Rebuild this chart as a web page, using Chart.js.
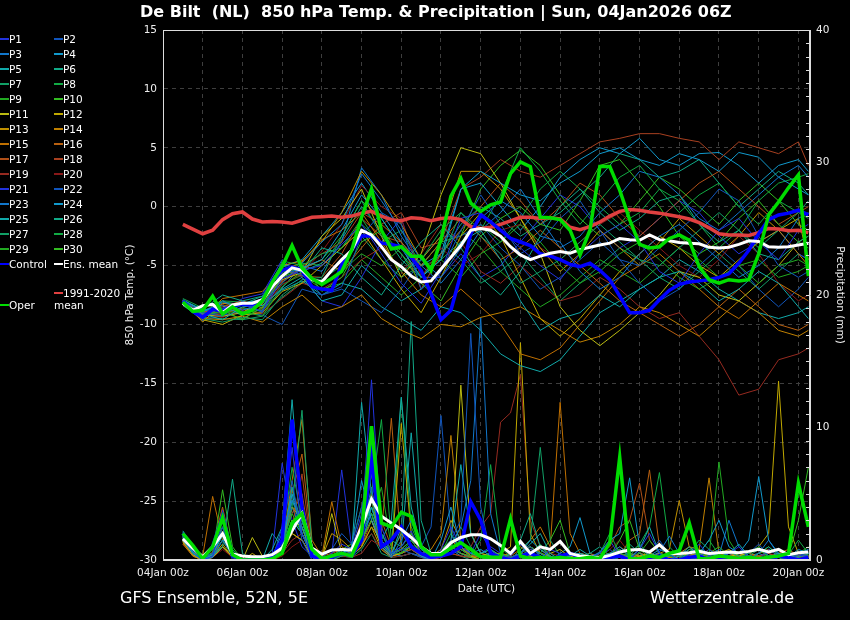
<!DOCTYPE html>
<html>
<head>
<meta charset="utf-8">
<title>De Bilt 850 hPa ensemble</title>
<script src="https://cdn.jsdelivr.net/npm/chart.js@4.4.1/dist/chart.umd.min.js"></script>
<style>
  body { margin: 0; background: #000; overflow: hidden; font-family: "DejaVu Sans", sans-serif; color: #fff; }
  #wrap { position: relative; width: 850px; height: 620px; }
  canvas { position: absolute; left: 0; top: 0; }
  .txt { position: absolute; white-space: pre; }
  #title { left: 140px; top: 2px; font-size: 16px; font-weight: bold; }
  .foot { top: 588px; font-size: 16px; }
  .key { position: absolute; font-size: 10.5px; line-height: 12px; white-space: pre; }
  .key i { position: absolute; height: 2px; top: 5px; }
</style>
</head>
<body>
<div id="wrap">
  <canvas id="c" width="850" height="620"></canvas>
  <div class="txt" id="title">De Bilt  (NL)  850 hPa Temp. &amp; Precipitation | Sun, 04Jan2026 06Z</div>
  <div class="txt foot" style="left:120px">GFS Ensemble, 52N, 5E</div>
  <div class="txt foot" style="left:650px">Wetterzentrale.de</div>
  <div id="legend"></div>
</div>
<script>
// hours after 04Jan 00z
const tHours = [12,24,36,48,60,72,84,96,108,120,132,144,156,168,180,192,204,216,228,240,252,264,276,288,300,312,324,336,348,360,372,384,390];
const pHours = [12,18,24,30,36,42,48,54,60,66,72,78,84,90,96,102,108,114,120,126,132,138,144,150,156,162,168,174,180,186,192,198,204,210,216,222,228,234,240,246,252,258,264,270,276,282,288,294,300,306,312,318,324,330,336,342,348,354,360,366,372,378,384,390];

// 850 hPa temperature (°C), ensemble members, 12-hourly
const tP1  = [-8.1,-9.2,-8.6,-8.3,-8.9,-6.1,-5.4,-5.0,-3.2,-1.5,-4.0,-6.5,-8.2,-5.5,-1.0,-0.5,-2.0,-3.5,-5.0,-6.2,-4.0,-2.5,-1.5,-3.0,-5.5,-6.5,-4.0,-2.0,-1.0,-3.0,-4.5,-2.0,-1.5];
const tP2  = [-8.0,-9.0,-9.3,-8.0,-9.0,-5.2,-5.8,-7.5,-6.8,-2.5,-0.5,-1.5,-7.0,-5.5,-2.0,1.0,-1.5,-4.0,-3.0,-1.0,0.5,-2.0,-4.5,-5.0,-3.5,-2.0,-0.5,1.5,0.5,-2.5,-5.0,-6.0,-5.5];
const tP3  = [-8.2,-9.4,-8.0,-8.8,-8.2,-6.5,-4.8,-3.0,-1.5,2.8,0.5,-2.0,-4.5,-6.0,-3.5,-1.0,0.5,-0.5,-2.5,-3.0,-5.5,-7.0,-6.0,-4.0,-2.5,-1.5,-3.0,-4.5,-6.0,-5.0,-3.5,-1.0,-0.5];
const tP4  = [-7.9,-8.8,-8.4,-9.2,-8.0,-5.8,-5.2,-4.5,-2.0,1.0,-1.0,-3.5,-6.0,-4.5,1.5,3.0,2.0,1.0,0.5,2.0,3.0,4.5,5.0,4.0,3.5,4.5,4.0,3.0,4.6,4.2,2.5,1.5,1.0];
const tP5  = [-8.3,-9.1,-9.6,-8.5,-8.4,-7.0,-6.0,-8.0,-7.5,-5.0,-6.5,-8.0,-7.0,-5.5,-3.0,-2.0,-4.5,-8.0,-10.5,-9.5,-9.0,-7.5,-8.5,-7.0,-6.0,-5.5,-6.5,-8.0,-7.0,-5.5,-6.5,-8.5,-9.5];
const tP6  = [-8.0,-8.7,-7.5,-8.0,-7.6,-5.0,-5.6,-3.5,-4.0,-6.0,-7.5,-5.0,-3.0,-1.5,-3.5,-6.0,-7.5,-5.5,-2.5,0.0,1.5,-0.5,-2.0,-1.0,0.5,1.0,-1.5,-3.0,-2.0,-4.0,-4.5,-3.0,-2.5];
const tP7  = [-8.4,-9.5,-9.8,-9.4,-9.6,-7.5,-6.2,-6.0,-2.5,0.5,-2.5,-4.0,-6.0,-4.5,-0.5,-2.5,-4.0,-6.5,-5.5,-4.5,-3.0,-1.5,-3.0,-4.5,-5.0,-3.5,-2.0,-0.5,-2.0,-3.5,-2.0,-0.5,0.5];
const tP8  = [-7.8,-8.6,-8.0,-8.6,-8.8,-4.6,-5.0,-4.0,-3.5,-1.0,-3.5,-5.5,-4.5,-2.0,-0.5,-2.0,1.0,5.0,3.0,0.5,-1.5,0.5,2.5,3.5,1.5,-0.5,1.0,2.0,0.0,-1.5,0.5,-0.5,-1.0];
const tP9  = [-8.2,-9.0,-9.0,-8.9,-9.3,-6.8,-5.5,-6.5,-5.5,-4.0,-5.0,-3.5,-6.0,-4.5,-6.0,-4.0,-3.0,-1.5,-3.0,-5.0,-6.5,-5.5,-4.0,-3.0,-4.5,-6.0,-7.0,-6.0,-5.0,-6.5,-5.0,-4.5,-5.0];
const tP10 = [-8.1,-9.3,-8.8,-9.6,-8.5,-6.0,-4.9,-7.2,-6.0,-3.0,-2.0,-4.0,-6.5,-8.0,-5.0,-2.5,-1.0,0.0,-1.5,-2.0,0.5,3.5,4.0,2.0,0.0,-2.5,-4.0,-3.0,-1.0,0.5,-1.5,-3.0,-3.5];
const tP11 = [-8.0,-9.2,-9.3,-9.0,-8.0,-6.2,-5.6,-2.5,-1.0,1.5,-2.5,-6.0,-4.0,1.0,5.0,4.5,2.0,-1.0,-4.0,-8.5,-10.5,-11.8,-10.5,-9.0,-7.5,-5.5,-6.0,-7.5,-8.0,-6.5,-5.0,-3.0,-2.5];
const tP12 = [-8.3,-9.6,-10.0,-9.2,-9.0,-7.2,-6.5,-5.0,-3.5,-2.0,-4.5,-7.0,-9.0,-6.0,-2.5,-0.5,-2.5,-6.0,-9.5,-11.0,-9.5,-7.5,-5.5,-4.0,-2.5,-3.5,-5.0,-6.0,-4.5,-3.0,-2.0,-1.0,-4.5];
const tP13 = [-8.0,-9.8,-8.2,-8.4,-8.3,-5.0,-4.6,-3.0,-0.5,3.0,1.0,-1.5,-4.5,-2.5,3.0,3.0,1.5,-1.0,-3.5,-5.5,-4.0,-2.0,-3.5,-5.0,-3.0,-1.0,-2.5,-4.0,-2.5,-0.5,-2.0,-4.0,-5.0];
const tP14 = [-8.2,-9.5,-9.6,-9.3,-9.8,-8.5,-7.5,-9.0,-8.5,-7.5,-9.5,-10.5,-11.2,-10.0,-10.2,-9.4,-9.0,-8.5,-9.5,-10.5,-11.5,-11.0,-10.0,-8.5,-9.0,-10.0,-11.0,-9.5,-8.0,-9.0,-10.5,-11.0,-10.5];
const tP15 = [-8.1,-9.4,-7.8,-7.5,-7.2,-5.5,-4.7,-2.8,-2.0,-0.5,-3.0,-5.5,-7.5,-8.5,-7.0,-8.5,-10.0,-12.5,-13.0,-12.0,-10.0,-8.0,-6.0,-5.0,-4.0,-5.5,-7.0,-8.5,-9.5,-8.0,-6.5,-7.5,-8.0];
const tP16 = [-8.0,-9.0,-8.5,-8.0,-8.6,-6.4,-5.3,-4.5,-5.5,-3.5,-1.5,-3.0,-5.0,-3.0,-1.0,-2.5,-4.5,-3.5,-2.0,-3.5,-5.0,-6.5,-8.0,-9.0,-10.0,-11.0,-10.0,-8.5,-7.0,-8.5,-10.0,-10.5,-10.0];
const tP17 = [-8.3,-9.3,-9.1,-8.6,-7.8,-5.3,-5.9,-6.0,-4.0,-1.0,-2.5,-3.0,-7.0,-4.0,-2.0,0.0,2.0,0.5,-1.5,0.0,2.0,1.0,-1.0,-2.5,-1.0,0.5,2.0,3.0,1.5,0.0,-1.5,-0.5,0.0];
const tP18 = [-8.1,-9.1,-8.3,-9.1,-8.1,-6.3,-5.1,-4.0,-3.0,-0.5,-1.5,-0.5,-3.5,-3.0,1.5,2.5,4.0,3.0,2.5,3.5,4.5,5.5,5.8,6.2,6.2,5.8,5.5,4.0,5.5,5.0,4.5,5.5,3.5];
const tP19 = [-8.0,-9.0,-9.0,-8.7,-9.1,-7.8,-6.5,-7.0,-6.0,-4.5,-3.5,-5.5,-4.0,-1.5,-3.0,-5.5,-6.5,-5.0,-6.5,-8.0,-7.5,-6.0,-7.0,-8.5,-9.5,-9.0,-11.0,-13.0,-16.0,-15.5,-13.0,-12.5,-12.0];
const tP20 = [-8.2,-9.2,-9.4,-8.8,-8.7,-6.6,-5.7,-3.8,-1.5,1.8,0.0,-1.0,-6.0,-3.5,-5.0,-4.0,-2.0,-1.5,-3.5,-4.5,-3.0,-1.5,-0.5,-2.0,-3.5,-5.0,-6.0,-4.5,-2.5,-4.0,-6.5,-8.0,-7.5];
const tP21 = [-8.0,-9.1,-9.0,-7.8,-7.4,-4.5,-6.0,-8.0,-8.5,-6.0,-3.0,-1.0,-6.0,-6.0,-4.0,-6.0,-5.0,-3.0,-1.0,1.0,0.0,-2.0,-3.5,-2.5,-1.0,0.5,-0.5,-2.5,-4.0,-3.0,-2.0,-4.0,-4.5];
const tP22 = [-8.3,-9.7,-9.2,-9.0,-9.2,-10.0,-7.0,-7.5,-7.0,-8.0,-9.0,-7.0,-4.5,-2.5,-2.5,-1.5,-3.5,-5.0,-7.0,-6.0,-4.5,-3.0,-4.5,-6.5,-8.0,-7.0,-5.0,-3.5,-5.0,-7.0,-8.5,-7.0,-6.0];
const tP23 = [-8.1,-8.9,-8.2,-8.4,-8.4,-6.9,-5.0,-5.5,-3.0,3.3,1.0,-2.5,-5.0,-6.5,-4.5,-2.0,-0.5,1.5,-1.0,-3.5,-2.5,-0.5,1.0,3.0,2.5,1.0,-1.0,-2.0,-0.5,1.0,2.5,3.5,2.5];
const tP24 = [-8.0,-8.8,-8.7,-8.2,-7.9,-5.1,-4.5,-2.5,-0.5,2.0,-0.5,-3.0,-5.0,-4.0,1.5,2.0,0.0,-2.0,0.0,2.5,4.0,5.0,4.5,5.8,4.0,3.5,4.5,4.6,3.5,2.0,3.5,4.0,3.0];
const tP25 = [-8.2,-9.3,-8.9,-8.7,-8.8,-7.1,-6.3,-7.5,-6.5,-7.0,-8.5,-9.5,-10.5,-8.5,-9.0,-10.5,-12.5,-13.5,-14.0,-13.0,-11.0,-9.0,-8.0,-7.0,-6.0,-4.5,-5.5,-7.0,-8.0,-9.0,-9.5,-9.0,-8.5];
const tP26 = [-8.1,-9.0,-8.1,-8.3,-7.6,-4.8,-5.5,-4.8,-2.8,0.0,-2.0,-4.5,-6.0,-4.0,-1.5,0.0,-1.0,-2.5,-1.5,-0.5,1.0,2.5,4.5,4.0,2.5,3.0,4.0,2.0,0.0,1.5,3.0,2.0,1.0];
const tP27 = [-8.3,-9.4,-9.5,-9.6,-9.3,-7.7,-6.4,-6.2,-5.0,-2.5,-4.5,-6.0,-5.0,-3.0,-4.5,-6.5,-5.5,-4.0,-6.0,-8.0,-6.5,-5.0,-3.5,-4.5,-6.0,-7.0,-5.5,-4.0,-5.5,-7.0,-5.5,-4.0,-4.5];
const tP28 = [-8.0,-8.9,-8.0,-8.1,-8.2,-5.6,-4.8,-5.0,-3.5,-1.5,-3.0,-2.0,-5.0,-4.5,-3.0,-1.5,-3.0,-1.0,1.5,3.0,1.5,0.0,-1.5,-0.5,1.5,0.5,-1.5,-3.5,-2.0,0.5,2.0,2.5,2.8];
const tP29 = [-8.2,-9.2,-8.7,-9.2,-8.9,-6.6,-5.8,-7.0,-6.5,-4.5,-6.0,-7.5,-6.0,-4.0,-2.0,-3.5,-5.5,-7.0,-8.5,-7.5,-6.0,-4.5,-5.5,-6.5,-5.0,-3.5,-4.5,-6.0,-5.0,-4.5,-6.0,-5.5,-5.0];
const tP30 = [-8.1,-9.0,-9.0,-9.5,-8.6,-6.0,-5.3,-4.5,-2.5,0.5,-1.0,-3.5,-5.0,-3.0,-2.5,1.5,3.5,4.8,3.5,1.0,-1.0,-2.5,-1.5,0.5,2.5,1.5,0.0,-1.5,0.5,2.0,0.5,-1.5,-2.0];

// 6-hourly precipitation (mm), ensemble members
const pP1  = [1.8,0.8,0,0.3,3.0,0.2,0,0, 0,0.2,1.5,8.5,2.0,0.3,0,0.5, 1.2,0.8,3.5,9.0,2.5,0.5,1.0,2.2, 0.5,0,0.8,2.5,1.0,0.5,2.0,0.8, 0,0.3,1.2,0.4,0,0.8,0.5,0, 0,0.2,0.5,1.5,0.3,0,0.8,2.0, 0.5,0,0,0.4,1.2,0.3,0,0.5, 1.0,0.2,0,0.8,0.3,0,0.4,0.2];
const pP2  = [2.0,1.0,0.2,0.5,2.5,0,0,0, 0,0,2.5,6.0,1.5,0,0.2,0.8, 2.0,1.2,4.0,6.5,1.5,0.3,0.8,0.5, 0.2,0,0.5,1.5,3.0,17.1,4.0,0.5, 0,0.2,0.5,1.0,0.3,0,0,0.2, 0,0,0.3,0.8,0.2,0,0,0.5, 1.5,0.4,0,0,0.2,0.8,0.3,0, 0,0.5,1.2,0.3,0,0.2,0.5,0.3];
const pP3  = [1.5,0.5,0,0.2,1.5,0.4,0,0, 0,0.3,2.0,4.5,3.0,0.5,0,0.2, 0.8,0.5,2.0,5.5,1.0,0.2,1.5,3.0, 0.8,0.2,0.5,1.2,2.5,6.0,18.3,3.5, 0.5,0,0.3,0.8,0.5,0,0.3,0, 0,0,0.2,0.5,1.0,0.3,0,0.2, 0.6,1.8,0.5,0,0,0.3,0.8,0.2, 0,0,0.5,1.5,0.4,0,0.2,0.8];
const pP4  = [1.6,0.6,0,0.4,2.0,0.3,0,0, 0.2,0.5,1.0,5.0,2.0,0.2,0,0.4, 0.5,1.0,6.0,3.0,1.2,0.4,2.5,1.0, 0.3,0,1.5,4.0,1.0,0.5,0.8,0.3, 0,0,0.5,1.5,0.8,0.2,0,0.3, 0.5,0.2,0.6,1.5,2.0,6.2,1.0,0.3, 0.8,0.5,0,0.2,0.5,1.5,3.0,1.0, 0.5,1.5,6.3,1.5,0.5,0.2,0.8,0.5];
const pP5  = [2.2,1.0,0.2,0.5,1.8,0.2,0,0, 0,0.8,2.5,12.1,3.0,0.5,0.2,0.3, 0.5,0.8,2.5,4.0,1.5,3.0,12.3,4.0, 1.0,0.5,0.3,1.5,7.2,2.0,0.5,0.8, 0.3,0,0.5,1.2,2.0,0.5,0,0.3, 0.8,0.3,0,0.5,0.3,0.2,0.8,2.5, 0.5,0,0.3,1.0,0.4,0,0.2,0.5, 1.2,0.3,0,0.2,0.5,0.3,0,0.2];
const pP6  = [1.7,0.5,0,0.3,1.0,6.1,0.5,0, 0,0.2,1.0,5.5,2.5,0.3,0,0.2, 0.5,1.0,2.0,6.5,1.5,0.5,2.0,18.0, 3.0,0.5,0.2,0.8,1.5,0.5,0.3,0.2, 0,0.5,1.5,3.5,1.0,0.3,0,0, 0.2,0.5,1.0,0.3,0.5,1.2,0.5,0, 0,0.3,0.8,2.5,0.5,0,0.2,0.6, 0.3,0,0.5,1.0,0.4,0.2,0.3,0.5];
const pP7  = [1.5,0.8,0,0.5,2.5,0.8,0,0, 0,0,0.8,4.0,11.3,1.0,0.2,0, 0.3,0.5,1.5,4.5,2.0,0.5,0.8,1.5, 0.5,0,0.5,1.0,2.5,1.0,0.3,0, 0.2,0,0.8,1.5,8.5,1.5,0.3,0.2, 0,0.2,0.5,0.3,0,0.5,1.2,0.4, 0.2,0,0,0.5,1.5,0.8,0.2,0, 0,0.3,0.8,0.3,0,0.5,0.2,0.4];
const pP8  = [2.0,0.8,0.2,0.3,1.5,0.3,0,0, 0,0.3,1.5,7.0,3.0,0.5,0,0.2, 0.5,0.8,2.5,5.0,10.6,1.5,1.0,2.0, 1.0,0.3,0.5,2.0,0.8,0.3,1.5,7.2, 1.0,0.2,0,0.5,1.2,0.3,0,0.5, 0.3,0,0.5,2.0,0.5,0.3,1.2,2.5, 6.6,1.0,0.2,0,0.5,1.5,0.4,0, 0.2,0.5,1.0,0.3,0,0.4,1.5,0.5];
const pP9  = [1.8,0.6,0,0.4,3.5,0.5,0,0, 0,0.4,1.2,3.5,2.0,0.2,0,0, 0.3,0.6,1.5,3.0,5.5,1.0,0.5,1.5, 0.5,0.2,0.3,0.8,1.5,0.5,0.2,0.5, 0.3,0,0.2,1.0,0.5,0.2,0,0.3, 0.5,0.2,0,0.5,0.8,0.3,0.5,1.5, 0.5,0.3,0,0.8,0.5,0.3,7.4,1.5, 0.3,0,0.5,1.0,0.3,0,0.5,1.0];
const pP10 = [1.6,0.5,0,0.5,5.3,1.0,0,0, 0,0,0.5,2.5,4.0,0.3,0,0.3, 0.8,1.2,4.0,3.5,1.5,0.5,0.5,1.0, 0.3,0,0.5,1.0,0.5,0.2,0,0.3, 0.5,0.2,0,0.3,0.5,1.5,3.0,0.5, 0,0.2,0.5,0.3,1.5,3.0,0.8,0.2, 0,0.3,0.5,0.2,0,0.5,1.0,0.3, 0.2,0.5,0.8,0.2,0,0.3,3.0,7.0];
const pP11 = [1.4,0.4,0,0.2,1.0,0.3,0,1.7, 0.3,0,0.5,3.0,2.5,0.3,0,3.5, 0.5,0.5,1.5,3.0,1.0,0.3,0.5,1.0, 0.5,0.2,0.5,1.0,13.2,2.0,0.5,0.3, 0,0.2,0.5,0.3,0,0.5,0.8,0.2, 0,0,0.2,0.5,0.3,0,0.2,0.5, 0.3,0,0,0.2,0.5,0.3,0,0.2, 0.5,0.3,0,0.2,0.5,0.2,0,0.3];
const pP12 = [1.5,0.6,0,0.3,1.2,0.2,0,0.5, 0,0.2,0.8,2.0,1.5,0.2,0,0.3, 0.5,0.3,1.0,2.5,0.8,0.2,10.3,2.0, 0.5,0.2,0.3,0.5,1.0,0.3,0,0.2, 0.5,1.0,16.4,2.0,0.5,0.2,0,0.3, 0,0.2,0.3,0.5,0.2,0,0.3,0.5, 0.2,0,0.3,0.5,0.2,0,0.5,0.8, 0.3,0.5,1.0,2.0,13.5,2.5,0.5,0.3];
const pP13 = [1.3,0.5,0,0.6,2.5,0.5,0,0, 0,0.3,1.0,4.0,3.0,0.5,0.2,2.0, 1.5,0.8,2.5,4.5,1.5,0.5,0.8,1.5, 0.5,0.3,0.8,3.0,1.5,0.5,0.2,0.5, 0.3,0,0.5,1.0,0.5,0.3,0,0.2, 0.5,0.3,0,0.5,1.0,0.5,0.3,0.2, 0.5,0.8,4.5,1.0,0.3,0,0.2,0.5, 0.3,0,0.5,0.8,0.3,0.2,0.5,0.3];
const pP14 = [1.2,0.3,0,0.2,1.0,0.2,0,0, 0,0,0.5,2.0,1.5,0.3,0,0.4, 0.5,0.3,1.0,2.5,1.5,0.5,2.0,1.0, 0.5,0.8,2.0,9.4,1.5,0.3,0,0.2, 0.3,0.5,1.0,0.5,0.2,0,0.3,0.5, 0.2,0,0.3,0.5,0.2,0,0.5,0.3, 0,0.2,0.5,1.0,0.8,6.2,0.5,0.3, 0.2,0.5,0.3,0,0.2,0.5,0.3,0.2];
const pP15 = [1.7,0.8,0.3,4.8,1.5,0.3,0,0, 0,0.2,1.0,6.0,10.6,1.5,0.3,4.4, 1.0,0.5,1.5,3.0,1.0,0.3,0.5,1.0, 0.3,0,0.5,1.5,0.8,0.3,0.2,0.5, 0.5,0.3,0.8,1.5,2.5,1.0,11.9,2.0, 0.5,0.2,0,0.3,0.5,0.2,0,0.3, 0.5,0.2,0,0.3,0.5,0.2,0,0.3, 0.5,0.3,0,0.2,0.5,0.8,0.3,0.2];
const pP16 = [1.5,0.6,0.2,1.0,4.0,0.5,0,0, 0,0,0.8,5.0,8.0,1.0,0.3,0.5, 0.8,0.5,3.0,7.0,2.0,10.7,0.8,1.5, 0.5,0.3,0.2,0.5,1.0,0.3,0,0.2, 0.3,0,0.5,1.0,0.3,0,0.2,0.5, 0.3,0.5,0.2,0.5,0.3,1.5,2.0,6.8, 1.0,0.3,0,0.2,0.5,0.3,0,0.2, 0.5,0.3,0.2,0,0.3,0.5,0.2,0.3];
const pP17 = [1.4,0.4,0,0.5,1.5,0.3,0,0, 0,0.3,1.5,3.5,5.0,0.5,0,0.3, 0.5,0.8,2.0,5.0,3.0,1.0,0.5,0.8, 0.3,0,0.5,1.0,0.5,0.3,0.5,0.3, 0.2,0,0.3,0.5,0.8,0.3,0,0.2, 0.3,0,0.5,1.0,2.5,3.0,5.8,1.5, 0.5,0.3,0,0.2,0.5,0.3,0.2,0, 0.3,0.5,0.2,0,0.5,0.3,0.2,0.5];
const pP18 = [1.6,0.5,0,0.8,2.0,0.3,0,0, 0,0.2,0.8,2.5,6.5,0.5,0,0.3, 0.5,0.3,1.0,3.0,1.5,0.3,0.5,1.0, 0.3,0,0.2,0.5,0.3,0.2,0,0.5, 0.3,0.2,0,0.5,0.3,0,0.2,0.5, 0.2,0,0.3,0.5,0.2,0,0.3,0.2, 0,0.2,0.5,0.3,0,0.2,0.3,0, 0.2,0,0.3,0.5,0.2,0,0.3,0.2];
const pP19 = [1.3,0.3,0,0.3,1.0,0.2,0,0, 0,0,0.5,1.5,2.0,0.3,0,0.2, 0.3,0.2,0.5,1.5,1.0,0.3,0.5,0.8, 0.5,0.2,0.3,0.5,0.8,1.0,2.5,3.5, 10.4,11.1,14.0,3.0,1.0,0.5,0.3,0.2, 0,0.2,0.5,0.3,0.2,0,0.3,0.5, 0.2,0,0.3,0.5,0.8,0.3,0.2,0, 0.3,0.5,0.2,0,0.3,0.2,0.5,0.3];
const pP20 = [1.2,0.4,0,0.2,0.8,0.2,0,0, 0,0,0.3,1.0,1.5,0.2,0,0.3, 0.5,0.3,1.2,2.0,0.8,0.2,0.3,0.5, 0.2,0,0.3,0.5,0.3,0.2,0,0.3, 0.2,0,0.3,0.8,0.5,0.2,0,0.2, 0.3,0,0.2,0.8,1.5,0.5,0.2,0, 0.3,0.5,0.2,0,0.3,0.8,0.5,0.2, 0,0.3,0.2,0.5,0.3,0,0.2,0.3];
const pP21 = [1.9,0.7,0,0.5,3.8,0.5,0,0, 0,0.5,7.3,3.0,1.0,0.3,0,0.5, 6.8,1.0,2.5,13.6,2.0,0.5,0.8,1.0, 0.3,0,0.5,0.8,0.5,0.2,0.5,1.0, 0.5,0.2,0,0.3,0.5,0.2,0,0.3, 0.5,0.2,0.3,0,0.2,0.5,0.3,0, 0.2,0,0.3,0.5,0.2,0,0.3,0.5, 0.2,0,0.3,0.5,0.8,0.3,0,0.2];
const pP22 = [1.6,0.5,0,0.4,1.5,0.3,0,0, 0,0.2,1.5,4.0,2.5,0.5,0,0.2, 0.5,0.5,1.5,3.0,1.2,0.5,1.0,2.0, 1.0,2.5,10.9,2.0,0.5,0.2,0,0.3, 0.2,0,0.3,0.5,0.2,0,0.3,0.5, 0.2,0,0.5,0.3,0,0.2,0.5,0.3, 0.5,0.2,0,0.3,0.5,0.2,0,0.3, 0.5,0.2,0,0.3,0.5,0.2,0,0.3];
const pP23 = [1.7,0.6,0,0.3,2.0,0.2,0,0, 0,0,1.0,5.5,2.0,0.3,0,0.3, 0.5,0.3,1.5,3.5,1.0,0.3,0.5,0.8, 0.3,0,0.5,1.5,0.8,0.5,0.3,0.2, 0,0.2,0.5,1.0,0.5,0.2,0,0.3, 0.5,0.3,0,0.5,0.8,0.3,0,0.2, 0.5,0.2,0.3,0.8,0.5,0.2,0.3,3.0, 1.0,0.3,0,0.2,0.5,0.3,0.2,0.5];
const pP24 = [1.8,0.7,0.2,0.5,1.0,0.3,0,0, 0,0.3,1.0,3.0,2.0,0.5,0.2,0.3, 0.5,0.3,1.0,4.0,1.5,0.5,0.3,0.5, 0.3,0.2,0.5,0.8,0.3,0.2,0,0.2, 0.3,0,0.2,0.5,0.3,0,0.5,1.0, 3.2,0.5,0.2,0,0.3,0.5,0.2,0, 0.2,0.5,0.3,0,0.2,0.5,0.3,0, 0.2,0.3,0.5,0.2,0,0.3,0.5,0.8];
const pP25 = [2.1,0.9,0.3,0.5,1.5,0.3,0,0, 0,2.0,1.0,4.0,2.0,0.5,0,0.3, 0.5,0.5,11.9,5.0,1.5,0.5,1.0,9.6, 1.0,0.3,0.5,1.0,0.5,0.2,0,0.3, 0.2,0,0.5,0.3,0.2,0,0.3,0.5, 0,0.2,0.5,0.3,0,0.2,0.3,0.5, 0.2,0,0.3,0.5,0.2,0,0.3,0.5, 0.2,0,0.3,0.5,0.2,0,0.3,0.2];
const pP26 = [1.5,0.4,0,0.3,2.5,0.5,0,0, 0.3,0.2,0.8,4.5,3.0,0.5,0,0.2, 0.3,0.5,2.0,3.5,1.2,0.3,0.5,1.2, 0.5,0.2,0.5,1.0,0.5,0.2,0.3,0.5, 0.2,0,0.3,0.5,0.8,0.3,0,0.2, 0.3,0.2,0,0.3,0.5,0.2,0,0.3, 0.5,0.3,0,0.2,0.8,0.5,0.2,0, 0.2,0.3,0,0.2,0.5,0.3,0.2,0.5];
const pP27 = [1.4,0.3,0,0.2,1.0,0.2,0,0, 0,0.2,0.5,2.0,1.5,0.2,0,0.2, 0.3,0.2,0.8,2.0,0.5,0.2,0.3,0.5, 0.2,0,0.3,0.5,0.3,0,0,0.2, 0.3,0.2,0,0.3,0.5,0.2,0,0.3, 0.2,0,0.3,0.5,0.2,0,0.2,0.3, 0.2,0,0.3,0.2,0,0.3,0.5,0.2, 0,0.2,0.3,0,0.2,0.3,0.2,0];
const pP28 = [1.8,0.6,0,0.4,2.0,0.4,0,0, 0,0.2,1.0,4.5,2.5,0.5,0,0.3, 0.5,0.5,2.0,4.0,2.0,0.8,12.2,2.5, 0.8,0.3,0.5,1.0,0.5,0.3,0.2,0.5, 0.3,0,0.5,1.0,0.5,0.3,0,0.2, 0.5,0.3,0,0.2,0.5,0.3,0,0.2, 0.3,0.2,0,0.3,0.5,0.2,0,0.3, 0.5,0.3,0,0.2,0.3,0.2,0.5,0.3];
const pP29 = [1.6,0.5,0,0.3,1.5,0.3,0,0, 0,0.2,1.0,3.0,2.0,0.3,0,0.2, 0.5,0.3,1.5,3.0,1.0,0.3,0.5,0.8, 0.3,0,0.5,0.8,0.5,0.2,0.3,0.5, 0.2,0,0.3,0.5,0.3,0,0.2,0.3, 0.2,0,0.5,0.3,0,0.2,0.5,0.3, 0.2,0,0.3,0.5,0.2,0,0.3,0.2, 0,0.2,0.3,0.5,0.2,0,0.3,0.2];
const pP30 = [1.9,0.7,0,0.5,2.0,0.5,0,0, 0,0.3,1.5,4.0,3.5,0.5,0,0.3, 0.8,0.5,2.5,5.0,1.5,0.5,0.8,1.5, 0.5,0.2,0.8,1.5,0.8,0.3,0.5,0.8, 0.3,0,0.5,1.0,0.5,0.2,0,0.3, 0.5,0.2,0,0.3,0.5,0.2,0.3,0.5, 0.3,0.2,0,0.3,0.5,0.3,0,0.2, 0.3,0.2,0,0.3,0.5,0.3,0.2,0.4];

// highlighted runs, 6-hourly
const tControl = [-8.0,-8.9,-9.4,-8.7,-8.9,-8.4,-8.3,-8.3, -7.9,-6.3,-5.4,-5.1,-5.4,-6.8,-7.0,-7.1, -4.9,-3.7,-2.5,-2.5,-3.1,-3.2,-3.4,-4.3, -5.4,-7.4,-9.6,-8.8,-5.7,-2.3,-0.7,-1.3, -2.0,-2.7,-3.0,-3.3,-4.0,-4.2,-4.5,-4.9, -5.1,-4.8,-5.4,-6.2,-7.6,-9.0,-9.0,-8.8, -7.9,-7.1,-6.6,-6.4,-6.3,-6.2,-6.0,-5.7, -4.8,-3.7,-2.3,-1.1,-0.7,-0.55,-0.3,-0.7];
const tMean = [-8.2,-8.8,-8.4,-8.3,-9.0,-8.35,-8.2,-8.2, -7.9,-6.8,-5.9,-5.2,-5.4,-6.2,-6.4,-5.4, -4.5,-3.7,-2.0,-2.4,-3.4,-4.5,-5.1,-5.9, -6.4,-6.3,-5.3,-4.3,-3.3,-2.0,-1.85,-2.0, -2.5,-3.4,-4.1,-4.5,-4.2,-3.95,-3.8,-3.95, -3.65,-3.45,-3.25,-3.1,-2.7,-2.8,-2.85,-2.4, -2.8,-2.9,-3.05,-3.1,-3.15,-3.45,-3.5,-3.45, -3.2,-2.9,-2.95,-3.4,-3.45,-3.4,-3.25,-3.1];
const tOper = [-8.1,-8.9,-8.8,-7.6,-9.1,-8.5,-9.1,-8.8, -8.0,-6.4,-5.1,-3.3,-5.2,-6.1,-6.6,-6.1, -5.5,-3.7,-0.9,1.5,-2.0,-3.6,-3.4,-4.2, -4.2,-5.4,-2.8,0.9,2.4,0.3,-0.4,0.15, 0.4,2.8,3.8,3.4,-0.9,-0.95,-1.1,-2.0, -4.1,-2.0,3.4,3.4,1.4,-1.1,-3.2,-3.5, -3.4,-2.7,-2.4,-2.85,-5.1,-6.2,-6.5,-6.2, -6.3,-6.2,-4.0,-0.7,0.4,1.6,2.7,-5.9];
const tClim = [-1.5,-1.9,-2.3,-2.0,-1.1,-0.6,-0.45,-1.05, -1.3,-1.25,-1.3,-1.4,-1.15,-0.9,-0.85,-0.8, -0.9,-0.8,-0.55,-0.4,-0.8,-1.1,-1.2,-0.95, -1.0,-1.2,-1.0,-0.95,-1.1,-1.7,-1.85,-1.75, -1.5,-1.2,-0.9,-0.9,-1.0,-0.95,-1.05,-1.75, -1.95,-1.7,-1.3,-0.8,-0.4,-0.25,-0.3,-0.45, -0.55,-0.7,-0.85,-1.05,-1.35,-1.8,-2.3,-2.4, -2.4,-2.45,-2.2,-1.85,-1.9,-2.05,-2.0,-2.2];
const pControl = [2.0,1.0,0.1,1.0,3.3,0.3,0,0, 0,0.2,1.5,10.6,4.0,0.3,0,0.2, 0.5,0.3,1.5,7.7,1.0,1.5,2.5,1.0, 0.5,0.2,0.3,0.5,1.0,4.4,3.0,0.5, 0.2,0,0.3,0.5,0.2,0,0.3,0.5, 0.2,0,0,0.2,0.3,0,0,0.2, 0.3,0,0,0.2,0.3,0,0,0.2, 0,0.2,0,0,0.3,0.2,0,0.2];
const pMean = [1.6,0.9,0.25,1.0,2.0,0.45,0.3,0.25, 0.25,0.4,0.9,2.2,3.5,0.9,0.45,0.75, 0.8,0.75,2.5,4.6,3.3,2.8,2.3,1.7, 1.0,0.5,0.5,1.3,1.7,1.9,1.9,1.6, 1.1,0.5,1.4,0.5,1.0,0.8,1.4,0.5, 0.3,0.25,0.15,0.35,0.6,0.75,0.8,0.6, 1.15,0.5,0.5,0.55,0.65,0.5,0.55,0.6, 0.55,0.65,0.8,0.6,0.8,0.4,0.55,0.6];
const pOper = [2.0,1.1,0.1,1.0,3.2,0.4,0,0, 0,0.1,0.5,2.8,3.5,0.8,0.1,0.3, 0.5,0.3,2.0,10.1,2.8,2.5,3.6,3.3, 1.0,0.4,0.4,0.9,1.3,0.8,0.25,0.2, 0.2,3.1,0.3,0.1,0.2,0.1,0.2,0.1, 0.1,0.2,0.1,1.3,7.75,0.1,0.1,0.3, 0.2,0.5,0.7,2.8,0.1,0.1,0.3,0.2, 0.1,0.2,0.1,0.2,0.3,0.5,5.8,2.5];

const memberNames = ["P1","P2","P3","P4","P5","P6","P7","P8","P9","P10","P11","P12","P13","P14","P15","P16","P17","P18","P19","P20","P21","P22","P23","P24","P25","P26","P27","P28","P29","P30"];
const memberColors = ["#2233dd","#1155bb","#1177cc","#1199cc","#11aaaa","#11aa88","#11a066","#11aa44","#22aa22","#33bb22","#bbbb11","#c0a800","#c09000","#c08000","#c07000","#b86010","#b05018","#a84020","#962a20","#881818"];

const tempMembers = [tP1,tP2,tP3,tP4,tP5,tP6,tP7,tP8,tP9,tP10,tP11,tP12,tP13,tP14,tP15,tP16,tP17,tP18,tP19,tP20,tP21,tP22,tP23,tP24,tP25,tP26,tP27,tP28,tP29,tP30];
const precMembers = [pP1,pP2,pP3,pP4,pP5,pP6,pP7,pP8,pP9,pP10,pP11,pP12,pP13,pP14,pP15,pP16,pP17,pP18,pP19,pP20,pP21,pP22,pP23,pP24,pP25,pP26,pP27,pP28,pP29,pP30];

const colControl = "#0000ff", colMean = "#ffffff", colOper = "#00dd00", colClim = "#e04040";

function pts(hours, vals) {
  return vals.map((v, i) => ({ x: hours[i], y: v }));
}
function memberColor(i) {
  return memberColors[i % 20];
}

// datasets: lower "order" is drawn on top
const datasets = [];
tempMembers.forEach((vals, i) => {
  datasets.push({ label: memberNames[i], data: pts(tHours, vals), yAxisID: "y", borderColor: memberColor(i), borderWidth: 1, order: 10 });
});
precMembers.forEach((vals, i) => {
  datasets.push({ label: memberNames[i], data: pts(pHours, vals), yAxisID: "y2", borderColor: memberColor(i), borderWidth: 1, order: 10 });
});
datasets.push({ label: "1991-2020 mean", data: pts(pHours, tClim), yAxisID: "y", borderColor: colClim, borderWidth: 3.5, order: 4 });
datasets.push({ label: "Control", data: pts(pHours, tControl), yAxisID: "y", borderColor: colControl, borderWidth: 3.5, order: 3 });
datasets.push({ label: "Control", data: pts(pHours, pControl), yAxisID: "y2", borderColor: colControl, borderWidth: 3.5, order: 3 });
datasets.push({ label: "Ens. mean", data: pts(pHours, tMean), yAxisID: "y", borderColor: colMean, borderWidth: 3, order: 2 });
datasets.push({ label: "Ens. mean", data: pts(pHours, pMean), yAxisID: "y2", borderColor: colMean, borderWidth: 3, order: 2 });
datasets.push({ label: "Oper", data: pts(pHours, tOper), yAxisID: "y", borderColor: colOper, borderWidth: 3.5, order: 1 });
datasets.push({ label: "Oper", data: pts(pHours, pOper), yAxisID: "y2", borderColor: colOper, borderWidth: 3.5, order: 1 });

// legend on the left, two columns
const legend = document.getElementById("legend");
function addKey(x, y, color, text) {
  const d = document.createElement("div");
  d.className = "key";
  d.style.left = x + "px";
  d.style.top = y + "px";
  d.innerHTML = '<i style="left:0;width:9px;background:' + color + '"></i>' + '<span style="margin-left:9px">' + text + "</span>";
  legend.appendChild(d);
}
memberNames.forEach((name, i) => {
  const col = i % 2, row = Math.floor(i / 2);
  addKey(col ? 54 : 0, 33 + row * 15, memberColor(i), name);
});
addKey(0, 258, colControl, "Control");
addKey(54, 258, colMean, "Ens. mean");
addKey(54, 287, colClim, "1991-2020\nmean");
addKey(0, 299, colOper, "Oper");

// frame round the plot and short inward ticks on the precipitation axis
const framePlugin = {
  id: "frame",
  afterDraw(chart) {
    const { ctx, chartArea: a, scales } = chart;
    ctx.save();
    ctx.strokeStyle = "#dddddd";
    ctx.lineWidth = 1;
    scales.y2.ticks.forEach((t) => {
      const y = Math.round(scales.y2.getPixelForValue(t.value)) + 0.5;
      ctx.beginPath();
      ctx.moveTo(a.right - 4, y);
      ctx.lineTo(a.right, y);
      ctx.stroke();
    });
    ctx.strokeRect(Math.round(a.left) + 0.5, Math.round(a.top) + 0.5, Math.round(a.width) - 1, Math.round(a.height) - 1);
    ctx.restore();
  },
};

const tickFont = { family: "DejaVu Sans", size: 10.5 };
const gridCol = "#3e3e3e";

new Chart(document.getElementById("c"), {
  type: "line",
  data: { datasets },
  options: {
    responsive: false,
    animation: false,
    events: [],
    layout: { padding: { top: 30, bottom: 20, left: 120, right: 0 } },
    elements: { point: { radius: 0 }, line: { tension: 0 } },
    plugins: { legend: { display: false }, tooltip: { enabled: false } },
    scales: {
      x: {
        type: "linear",
        min: 0,
        max: 391,
        afterFit: (s) => { s.height = 40; },
        ticks: {
          stepSize: 24,
          autoSkip: false,
          maxRotation: 0,
          includeBounds: false,
          padding: 7,
          color: "#eeeeee",
          font: tickFont,
          callback: (v) => {
            if (v % 48 !== 0) return "";
            const day = 4 + v / 24;
            return (day < 10 ? "0" : "") + day + "Jan 00z";
          },
        },
        grid: { color: gridCol, drawTicks: false },
        border: { dash: [4, 4], color: "#dddddd" },
        title: { display: true, text: "Date (UTC)", color: "#eeeeee", font: tickFont, padding: { top: 2, bottom: 4 } },
      },
      y: {
        min: -30,
        max: 15,
        afterFit: (s) => { s.width = 43; },
        ticks: { stepSize: 5, padding: 6, color: "#eeeeee", font: tickFont },
        grid: { color: gridCol, drawTicks: false },
        border: { dash: [4, 4], color: "#dddddd" },
        title: { display: true, text: "850 hPa Temp. (°C)", color: "#eeeeee", font: tickFont, padding: { top: 4, bottom: 0 } },
      },
      y2: {
        position: "right",
        min: 0,
        max: 40,
        afterFit: (s) => { s.width = 40; },
        ticks: {
          stepSize: 1,
          autoSkip: false,
          padding: 6,
          color: "#eeeeee",
          font: tickFont,
          callback: (v) => (v % 10 === 0 ? v : ""),
        },
        grid: { drawOnChartArea: false, drawTicks: false },
        border: { color: "#dddddd" },
        title: { display: true, text: "Precipitation (mm)", color: "#eeeeee", font: tickFont, padding: { top: 4, bottom: 0 } },
      },
    },
  },
  plugins: [framePlugin],
});
</script>
</body>
</html>
